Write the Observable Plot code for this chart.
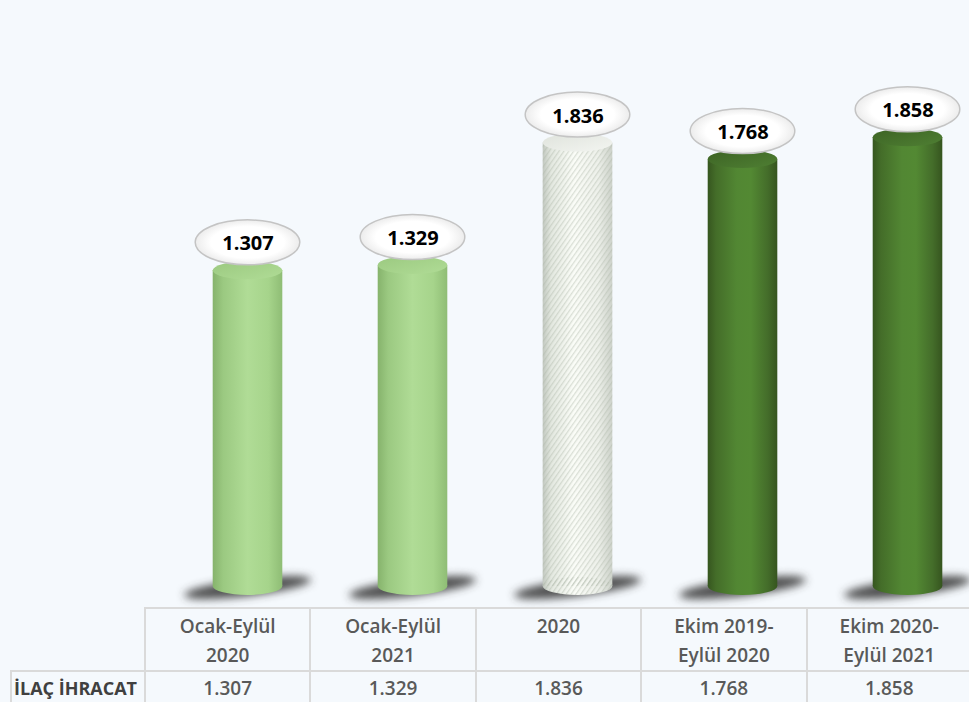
<!DOCTYPE html>
<html><head><meta charset="utf-8">
<script src="https://cdn.jsdelivr.net/npm/d3@7"></script>
<script src="https://cdn.jsdelivr.net/npm/@observablehq/plot@0.6"></script>
<style>
html,body{margin:0;padding:0;background:#f5f9fd;overflow:hidden;width:969px;height:702px;}
#wrap{position:relative;width:969px;height:702px;overflow:hidden;}
#chart svg{display:block;}
table{position:absolute;left:10px;top:607px;border-collapse:collapse;table-layout:fixed;width:961px;font-family:"Open Sans",sans-serif;}
td{border:2px solid #dadada;text-align:center;color:#595959;font-size:19px;font-weight:600;padding:0;}
tr.head td{height:57px;vertical-align:top;padding-top:3px;line-height:29px;}
tr.vals td{height:32px;vertical-align:middle;line-height:30px;}
td.corner{border-top:none;border-left:none;}
td.rowlab{color:#404040;font-weight:700;font-size:18px;text-align:left;padding-left:2px;}
</style>
</head><body>
<div id="wrap"><div id="chart"></div></div>
<script>
// ---- data ----
const categories = ["Ocak-Eylül\n2020", "Ocak-Eylül\n2021", "2020", "Ekim 2019-\nEylül 2020", "Ekim 2020-\nEylül 2021"];
const values = [1307, 1329, 1836, 1768, 1858];
const periodTypes = ["Ocak-Eylül", "Ocak-Eylül", "Yıllık", "12 Aylık", "12 Aylık"];
const rowLabel = "İLAÇ İHRACAT";

const fmt = d3.formatLocale({decimal: ",", thousands: ".", grouping: [3], currency: ["", "₺"]}).format(",");
const data = categories.map((c, i) => ({cat: c, value: values[i], type: periodTypes[i]}));

const bodyFill = {"Ocak-Eylül": "url(#gLight)", "Yıllık": "url(#gWhite)", "12 Aylık": "url(#gDark)"};
const topFill = {"Ocak-Eylül": "url(#tLight)", "Yıllık": "url(#tWhite)", "12 Aylık": "url(#tDark)"};

const x0 = 144, x1 = 971;
const bw = (x1 - x0) / categories.length;
const shift = 20;
function ins(w, s = shift) { return {insetLeft: (bw - w) / 2 + s, insetRight: (bw - w) / 2 - s}; }
const cylW = 70, ry = 9;
const labW = 105, labH = 45, labOff = 28;

const chart = Plot.plot({
  width: 969, height: 607,
  marginTop: 0, marginBottom: 0, marginLeft: 0, marginRight: 0,
  style: {background: "transparent", overflow: "visible"},
  x: {domain: categories, range: [x0, x1], padding: 0, axis: null},
  y: {domain: [0, 2000], range: [586, 103], axis: null},
  color: {type: "identity"},
  marks: [
    // shadow
    Plot.barY(data, {x: "cat", y1: 0, y2: 0, insetTop: -7, insetBottom: -10, ...ins(128, shift), rx: 64, ry: 8.5, fill: "#3a3a3a", fillOpacity: 0.9, ariaLabel: "shadow"}),
    // bottom cap
    Plot.barY(data, {x: "cat", y1: 0, y2: 0, insetTop: -ry, insetBottom: -ry, ...ins(cylW), rx: cylW / 2, ry: ry, fill: d => bodyFill[d.type]}),
    // body
    Plot.barY(data, {x: "cat", y1: 0, y2: "value", ...ins(cylW), fill: d => bodyFill[d.type]}),
    // hatch for annual bar
    Plot.barY(data, {filter: d => d.type === "Yıllık", x: "cat", y1: 0, y2: "value", ...ins(cylW), fill: "url(#hatch)"}),
    Plot.barY(data, {filter: d => d.type === "Yıllık", x: "cat", y1: 0, y2: 0, insetTop: -ry, insetBottom: -ry, ...ins(cylW), rx: cylW / 2, ry: ry, fill: "url(#hatch)"}),
    // top cap
    Plot.barY(data, {x: "cat", y1: "value", y2: "value", insetTop: -ry, insetBottom: -ry, ...ins(cylW), rx: cylW / 2, ry: ry, fill: d => topFill[d.type]}),
    // label bubble
    Plot.barY(data, {x: "cat", y1: "value", y2: "value", insetTop: -(labOff + labH / 2), insetBottom: labOff - labH / 2, ...ins(labW), rx: labW / 2, ry: labH / 2, fill: "url(#bubble)", stroke: "#c4c4c4", strokeWidth: 1.5}),
    Plot.text(data, {x: "cat", y: "value", text: d => fmt(d.value), dx: shift, dy: -labOff + 1, fontSize: 20, fontWeight: 700, fontFamily: "Open Sans, sans-serif", fill: "#000"})
  ]
});

d3.select(chart).insert("defs", ":first-child").html(`
  <linearGradient id="gLight" x1="0" x2="1" y1="0" y2="0">
    <stop offset="0" stop-color="#86b36c"/><stop offset="0.15" stop-color="#9bc981"/>
    <stop offset="0.5" stop-color="#b0dc96"/><stop offset="0.8" stop-color="#a6d48b"/>
    <stop offset="1" stop-color="#8fbd75"/></linearGradient>
  <linearGradient id="tLight" x1="0" x2="1" y1="0" y2="1">
    <stop offset="0" stop-color="#9bc980"/><stop offset="1" stop-color="#b0dc96"/></linearGradient>
  <linearGradient id="gDark" x1="0" x2="1" y1="0" y2="0">
    <stop offset="0" stop-color="#36561f"/><stop offset="0.12" stop-color="#446d29"/>
    <stop offset="0.42" stop-color="#528733"/><stop offset="0.62" stop-color="#538933"/>
    <stop offset="0.86" stop-color="#446d2a"/><stop offset="1" stop-color="#36551f"/></linearGradient>
  <linearGradient id="tDark" x1="0" x2="1" y1="0" y2="1">
    <stop offset="0" stop-color="#3c6324"/><stop offset="1" stop-color="#4f7f33"/></linearGradient>
  <linearGradient id="gWhite" x1="0" x2="1" y1="0" y2="0">
    <stop offset="0" stop-color="#c2c8c0"/><stop offset="0.12" stop-color="#e3e8e0"/>
    <stop offset="0.45" stop-color="#fbfdf8"/><stop offset="0.8" stop-color="#edf0ea"/>
    <stop offset="1" stop-color="#cdd2ca"/></linearGradient>
  <linearGradient id="tWhite" x1="0" x2="1" y1="0" y2="1">
    <stop offset="0" stop-color="#dfe3dc"/><stop offset="1" stop-color="#f3f5f1"/></linearGradient>
  <pattern id="hatch" patternUnits="userSpaceOnUse" width="4" height="4" patternTransform="rotate(35)">
    <rect x="0" y="0" width="1.3" height="4" fill="#a9b3a6" fill-opacity="0.4"/></pattern>
  <radialGradient id="bubble" cx="0.5" cy="0.5" r="0.5">
    <stop offset="0" stop-color="#ffffff"/><stop offset="0.7" stop-color="#ffffff"/>
    <stop offset="1" stop-color="#ececec"/></radialGradient>
  <filter id="blur" x="-30%" y="-150%" width="160%" height="400%">
    <feGaussianBlur stdDeviation="4"/></filter>
`);
// soften and tilt the floor shadows
d3.select(chart).selectAll("g").filter(function () {
  return this.getAttribute("aria-label") === "shadow" || this.getAttribute("fill") === "#3a3a3a";
}).selectAll("rect").each(function () {
  const r = d3.select(this);
  const cx = +r.attr("x") + +r.attr("width") / 2;
  const cy = +r.attr("y") + +r.attr("height") / 2;
  r.attr("filter", "url(#blur)").attr("transform", `rotate(-7 ${cx} ${cy})`);
});
document.getElementById("chart").appendChild(chart);

// ---- data table below the chart ----
const table = document.createElement("table");
const colW = [134, ...categories.map(() => bw)];
table.innerHTML = `<colgroup>${colW.map(w => `<col style="width:${w}px">`).join("")}</colgroup>
  <tr class="head"><td class="corner"></td>${categories.map(c => `<td>${c.replace("\n", "<br>")}</td>`).join("")}</tr>
  <tr class="vals"><td class="rowlab">${rowLabel}</td>${values.map(v => `<td>${fmt(v)}</td>`).join("")}</tr>`;
document.getElementById("wrap").appendChild(table);
</script>
</body></html>
